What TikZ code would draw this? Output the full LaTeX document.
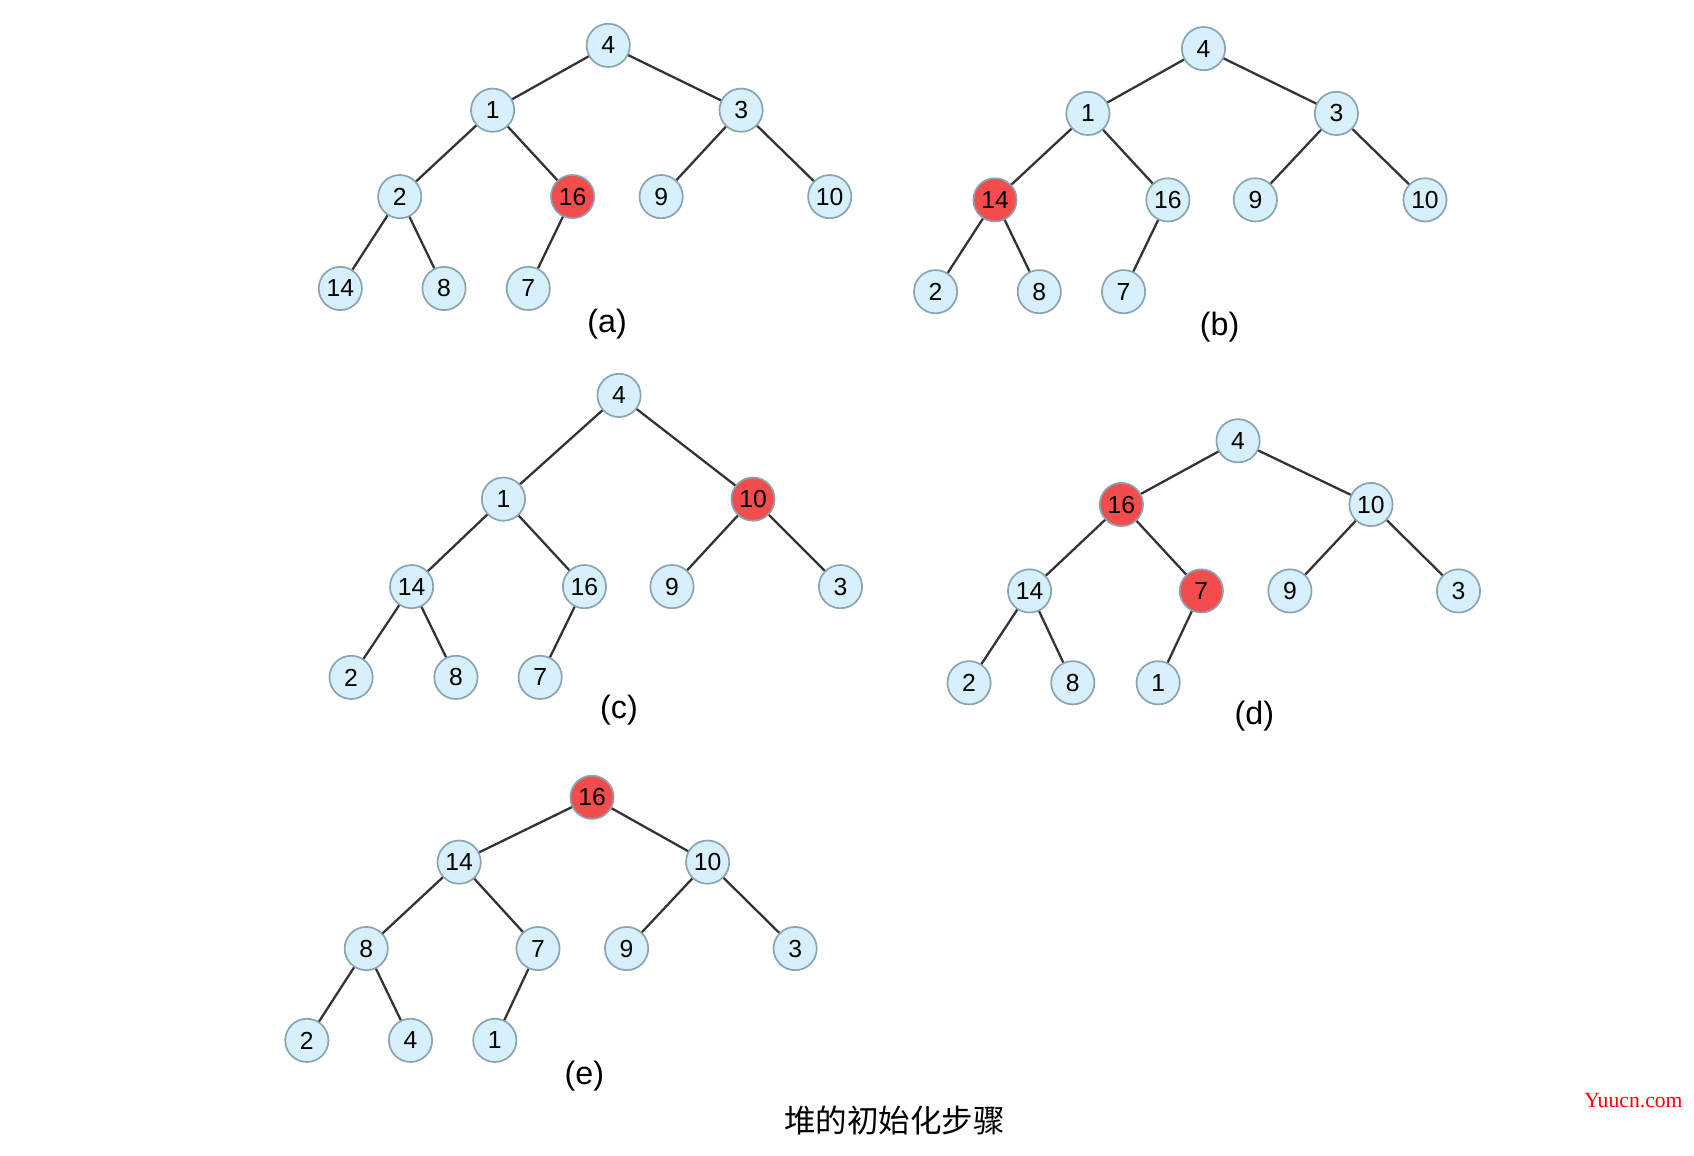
\documentclass[tikz,border=0pt]{standalone}
\usepackage{fontspec}
\setmainfont{Liberation Sans}
\newfontfamily\cjk{Noto Sans CJK SC}
\newfontfamily\markfont{Liberation Serif}
\usepackage{tikz}
\definecolor{heapblue}{RGB}{214,240,252}
\definecolor{heapred}{RGB}{242,76,76}
\definecolor{heapline}{RGB}{138,164,178}
\definecolor{edgegray}{RGB}{51,51,51}

\begin{document}
\begin{tikzpicture}[
    x=0.01cm, y=-0.01cm,
    heapnode/.style={circle, draw=heapline, line width=0.45pt, minimum size=0.4cm, inner sep=0pt, font=\fontsize{6.5}{7}\selectfont},
    edge/.style={edgegray, line width=0.6pt},
    caption/.style={font=\fontsize{8.5}{10}\selectfont}
]
\useasboundingbox (0,0) rectangle (1568,1070);

% Tree (a)
\foreach \i/\t/\c/\x/\y in {1/4/heapblue/563/42, 2/1/heapblue/456/102, 3/3/heapblue/686/102,
    4/2/heapblue/370/182, 5/16/heapred/530/182, 6/9/heapblue/612/182, 7/10/heapblue/768/182,
    8/14/heapblue/315/267, 9/8/heapblue/411/267, 10/7/heapblue/489/267}
    \node[heapnode, fill=\c] (a\i) at (\x,\y) {\t};
\node[caption] (capa) at (562,300) {(a)};

% Tree (b)
\foreach \i/\t/\c/\x/\y in {1/4/heapblue/1114/45, 2/1/heapblue/1007/105, 3/3/heapblue/1237/105,
    4/14/heapred/921/185, 5/16/heapblue/1081/185, 6/9/heapblue/1162/185, 7/10/heapblue/1319/185,
    8/2/heapblue/866/270, 9/8/heapblue/962/270, 10/7/heapblue/1040/270}
    \node[heapnode, fill=\c] (b\i) at (\x,\y) {\t};
\node[caption] (capb) at (1129,303) {(b)};

% Tree (c)
\foreach \i/\t/\c/\x/\y in {1/4/heapblue/573/366, 2/1/heapblue/466/462, 3/10/heapred/697/462,
    4/14/heapblue/381/543, 5/16/heapblue/541/543, 6/9/heapblue/622/543, 7/3/heapblue/778/543,
    8/2/heapblue/325/627, 9/8/heapblue/422/627, 10/7/heapblue/500/627}
    \node[heapnode, fill=\c] (c\i) at (\x,\y) {\t};
\node[caption] (capc) at (573,657) {(c)};

% Tree (d)
\foreach \i/\t/\c/\x/\y in {1/4/heapblue/1146/408, 2/16/heapred/1038/467, 3/10/heapblue/1269/467,
    4/14/heapblue/953/547, 5/7/heapred/1112/547, 6/9/heapblue/1194/547, 7/3/heapblue/1350/547,
    8/2/heapblue/897/632, 9/8/heapblue/993/632, 10/1/heapblue/1072/632}
    \node[heapnode, fill=\c] (d\i) at (\x,\y) {\t};
\node[caption] (capd) at (1161,663) {(d)};

% Tree (e)
\foreach \i/\t/\c/\x/\y in {1/16/heapred/548/738, 2/14/heapblue/425/798, 3/10/heapblue/655/798,
    4/8/heapblue/339/878, 5/7/heapblue/498/878, 6/9/heapblue/580/878, 7/3/heapblue/736/878,
    8/2/heapblue/284/963, 9/4/heapblue/380/963, 10/1/heapblue/458/963}
    \node[heapnode, fill=\c] (e\i) at (\x,\y) {\t};
\node[caption] (cape) at (541,996) {(e)};

% Edges: same heap shape in every tree
\foreach \t in {a,b,c,d,e}
    \foreach \p/\k in {1/2,1/3,2/4,2/5,3/6,3/7,4/8,4/9,5/10}
        \draw[edge] (\t\p) -- (\t\k);

% Title and mark
\node[font=\cjk\fontsize{8.3}{10}\selectfont] (title) at (828,1037) {堆的初始化步骤};
\node[font=\markfont\fontsize{5.7}{6}\selectfont, text=red] (mark) at (1512,1019) {Yuucn.com};

\end{tikzpicture}
\end{document}
